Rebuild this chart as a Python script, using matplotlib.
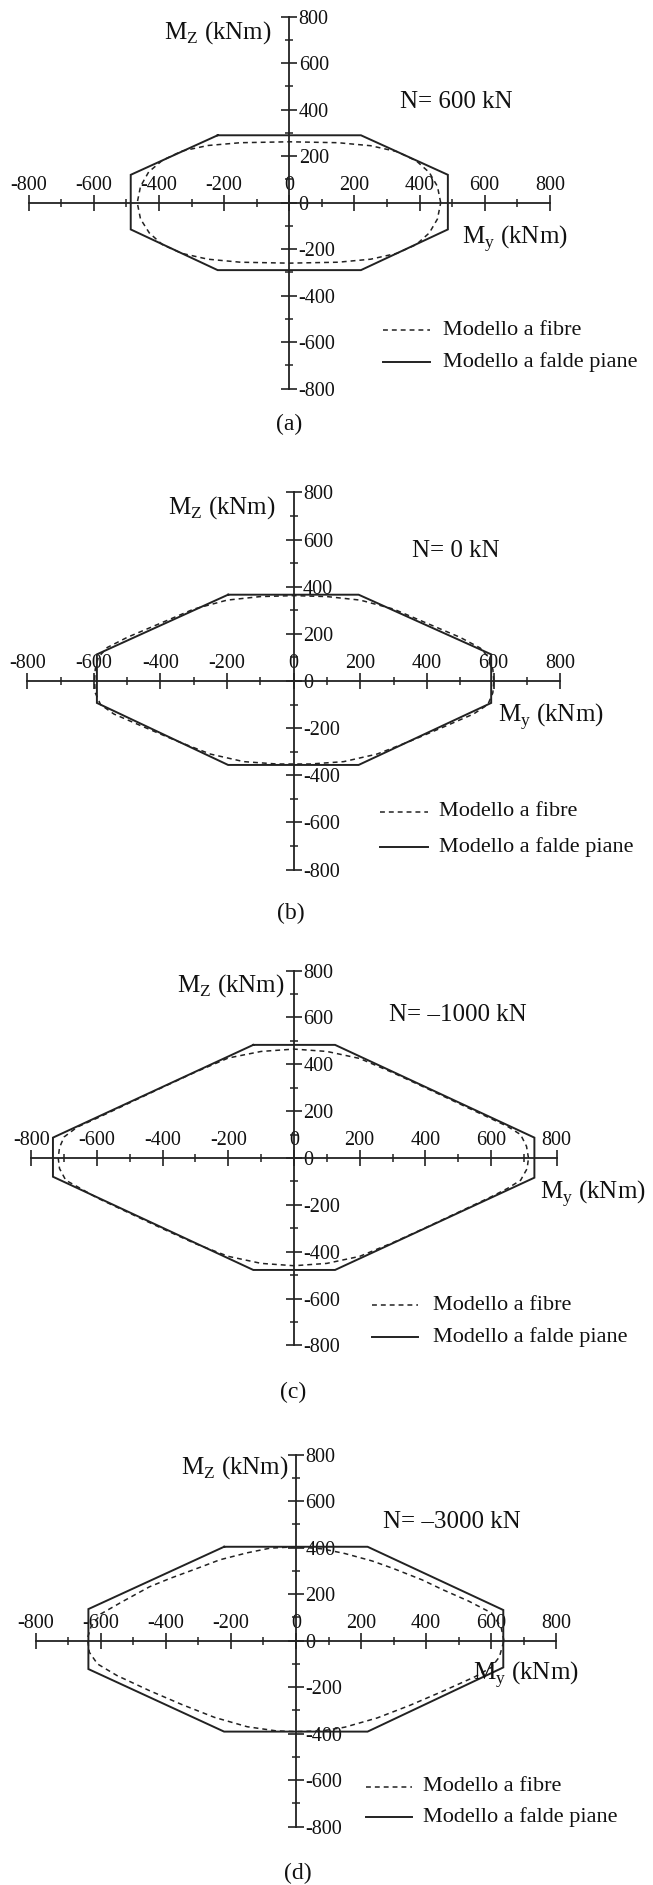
import matplotlib
matplotlib.use('Agg')
import matplotlib.pyplot as plt
from matplotlib.lines import Line2D
from matplotlib.ticker import MultipleLocator

plt.rcParams['font.family'] = ['Liberation Serif', 'DejaVu Serif']
plt.rcParams['mathtext.fontset'] = 'custom'
plt.rcParams['mathtext.rm'] = 'Liberation Serif'

# ---------------- data ----------------
panel_labels = ['(a)', '(b)', '(c)', '(d)']
axial_force = ['N= 600 kN', 'N= 0 kN', 'N= \u20131000 kN', 'N= \u20133000 kN']
legend_labels = ['Modello a fibre', 'Modello a falde piane']
tick_values = [-800, -600, -400, -200, 0, 200, 400, 600, 800]
tick_labels = ['-800', '-600', '-400', '-200', '0', '200', '400', '600', '800']
y_label = r'M$_\mathregular{Z}$ (kNm)'
x_label = r'M$_\mathregular{y}$ (kNm)'

# (a) N = 600 kN
falde_a_my = [-220, 220, 487, 487, 220, -220, -487, -487, -220]
falde_a_mz = [290, 290, 120, -115, -290, -290, -115, 120, 290]
fibre_a_my = [465, 455, 430, 390, 330, 250, 150, 0, -150, -250, -330, -390, -432, -457, -467,
              -457, -430, -390, -330, -250, -150, 0, 150, 250, 330, 390, 430, 455, 465]
fibre_a_mz = [0, 70, 130, 180, 220, 245, 258, 262, 258, 246, 222, 182, 132, 70, 0,
              -70, -130, -180, -218, -243, -256, -260, -256, -243, -218, -180, -130, -70, 0]

# (b) N = 0 kN
falde_b_my = [-197, 195, 593, 593, 195, -197, -591, -591, -197]
falde_b_mz = [366, 366, 113, -93, -356, -356, -93, 113, 366]
fibre_b_my = [601, 598, 585, 560, 500, 400, 300, 200, 100, 0, -100, -200, -300, -400, -500, -560,
              -587, -596, -598, -596, -580, -540, -450, -350, -250, -150, -50, 50, 150, 250, 350,
              450, 540, 583, 598, 601]
fibre_b_mz = [0, 50, 100, 140, 185, 245, 305, 343, 358, 362, 358, 343, 305, 245, 185, 142,
              100, 50, 0, -50, -100, -140, -195, -255, -310, -342, -352, -352, -342, -310, -255,
              -195, -140, -100, -50, 0]

# (c) N = -1000 kN
falde_c_my = [-124, 125, 732, 732, 125, -124, -734, -734, -124]
falde_c_mz = [483, 483, 87, -84, -478, -478, -80, 87, 483]
fibre_c_my = [714, 708, 690, 650, 600, 500, 400, 300, 200, 100, 0, -100, -200, -300, -400, -500,
              -600, -660, -700, -714, -718, -714, -695, -650, -600, -500, -400, -300, -200, -100,
              0, 100, 200, 300, 400, 500, 600, 650, 690, 710, 714]
fibre_c_mz = [0, 50, 100, 135, 168, 234, 300, 365, 425, 455, 465, 455, 427, 367, 302, 236,
              170, 132, 90, 45, 0, -45, -95, -130, -170, -236, -302, -366, -420, -450,
              -460, -450, -420, -362, -298, -232, -166, -130, -95, -45, 0]

# (d) N = -3000 kN
falde_d_my = [-221, 220, 637, 637, 220, -221, -638, -638, -221]
falde_d_mz = [404, 404, 132, -115, -391, -391, -122, 136, 404]
fibre_d_my = [639, 630, 600, 531, 450, 387, 300, 234, 150, 80, 0, -80, -150, -234, -300, -387,
              -450, -531, -600, -630, -641, -635, -610, -550, -450, -350, -250, -150, -60, 0,
              80, 150, 250, 350, 450, 550, 600, 625, 639]
fibre_d_mz = [0, 60, 120, 170, 220, 262, 310, 343, 375, 395, 404, 398, 378, 348, 313, 268,
              232, 170, 115, 60, 10, -50, -100, -150, -215, -275, -330, -370, -388, -391,
              -388, -372, -332, -278, -218, -155, -115, -70, 0]

fibre_my = [fibre_a_my, fibre_b_my, fibre_c_my, fibre_d_my]
fibre_mz = [fibre_a_mz, fibre_b_mz, fibre_c_mz, fibre_d_mz]
falde_my = [falde_a_my, falde_b_my, falde_c_my, falde_d_my]
falde_mz = [falde_a_mz, falde_b_mz, falde_c_mz, falde_d_mz]

# ---------------- layout (pixels) ----------------
W, H, DPI = 653, 1885, 100
# origin x, origin y (from top), px per unit x, px per unit y
geom = [(289.3, 202.7, 0.3256, 0.2325),
        (293.7, 681.0, 0.3330, 0.2358),
        (294.0, 1158.0, 0.3284, 0.2342),
        (296.0, 1640.7, 0.3254, 0.2325)]
mz_pos = [(272, 39), (276, 513.3), (285, 991.7), (289, 1474)]
n_pos = [(400, 108), (412, 556.7), (389, 1020.7), (383, 1528.3)]
my_pos = [(462, 243.5), (498, 721.7), (540, 1198.3), (473, 1680)]
leg_pos = [(383, 430, 443.3, 330, 361.7), (380, 428, 439, 811.7, 846.7),
           (372, 418, 433, 1305, 1336.7), (366, 412, 422.6, 1786.7, 1816.7)]
cap_pos = [(289, 424), (291, 913), (293, 1392), (298, 1873)]

INK = '#222222'
DASH = (0, (3.2, 2.6))

fig = plt.figure(figsize=(W / DPI, H / DPI), dpi=DPI)
fig.patch.set_facecolor('white')


def fx(x):
    return x / W


def fy(y):
    return 1 - y / H


for i in range(4):
    x0, y0, sx, sy = geom[i]
    left = (x0 - 800 * sx) / W
    bottom = (H - (y0 + 800 * sy)) / H
    ax = fig.add_axes([left, bottom, 1600 * sx / W, 1600 * sy / H])
    ax.set_xlim(-800, 800)
    ax.set_ylim(-800, 800)
    ax.patch.set_visible(False)
    for s in ['left', 'bottom']:
        ax.spines[s].set_visible(False)
    ax.spines['top'].set_position(('data', 0))
    ax.spines['right'].set_position(('data', 0))
    for s in ['top', 'right']:
        ax.spines[s].set_color(INK)
        ax.spines[s].set_linewidth(1.3)
    ax.xaxis.set_ticks_position('top')
    ax.yaxis.set_ticks_position('right')
    ax.set_xticks(tick_values, labels=tick_labels)
    ax.set_yticks(tick_values, labels=tick_labels)
    ax.xaxis.set_minor_locator(MultipleLocator(100))
    ax.yaxis.set_minor_locator(MultipleLocator(100))
    ax.tick_params(axis='x', which='major', direction='inout', length=11, width=1.2,
                   color=INK, labelsize=14.5, pad=0, labelcolor='#111111')
    ax.tick_params(axis='y', which='major', direction='inout', length=11.5, width=1.2,
                   color=INK, labelsize=14.5, pad=1, labelcolor='#111111')
    ax.tick_params(axis='x', which='minor', direction='inout', length=5.8, width=1.1, color=INK)
    ax.tick_params(axis='y', which='minor', direction='inout', length=5.8, width=1.1, color=INK)

    ax.plot(falde_my[i], falde_mz[i], color=INK, lw=1.4, solid_joinstyle='miter', clip_on=False)
    ax.plot(fibre_my[i], fibre_mz[i], color=INK, lw=1.1, linestyle=DASH, clip_on=False)

    # labels
    mx, my_ = mz_pos[i]
    fig.text(fx(mx), fy(my_), y_label, ha='right', va='baseline', fontsize=18, color='#111111')
    nx, ny = n_pos[i]
    fig.text(fx(nx), fy(ny), axial_force[i], ha='left', va='baseline', fontsize=18, color='#111111')
    yx, yy = my_pos[i]
    fig.text(fx(yx), fy(yy), x_label, ha='left', va='baseline', fontsize=18, color='#111111')

    # legend
    lx0, lx1, tx, ly1, ly2 = leg_pos[i]
    fig.add_artist(Line2D([fx(lx0), fx(lx1)], [fy(ly1), fy(ly1)], color=INK, lw=1.1,
                          linestyle=DASH, transform=fig.transFigure))
    fig.add_artist(Line2D([fx(lx0), fx(lx1)], [fy(ly2), fy(ly2)], color=INK, lw=1.4,
                          transform=fig.transFigure))
    fig.text(fx(tx), fy(ly1), legend_labels[0], ha='left', va='center', fontsize=16, color='#111111')
    fig.text(fx(tx), fy(ly2), legend_labels[1], ha='left', va='center', fontsize=16, color='#111111')

    cx, cy = cap_pos[i]
    fig.text(fx(cx), fy(cy), panel_labels[i], ha='center', va='center', fontsize=17, color='#111111')

fig.savefig('out.png', dpi=DPI, facecolor='white')
